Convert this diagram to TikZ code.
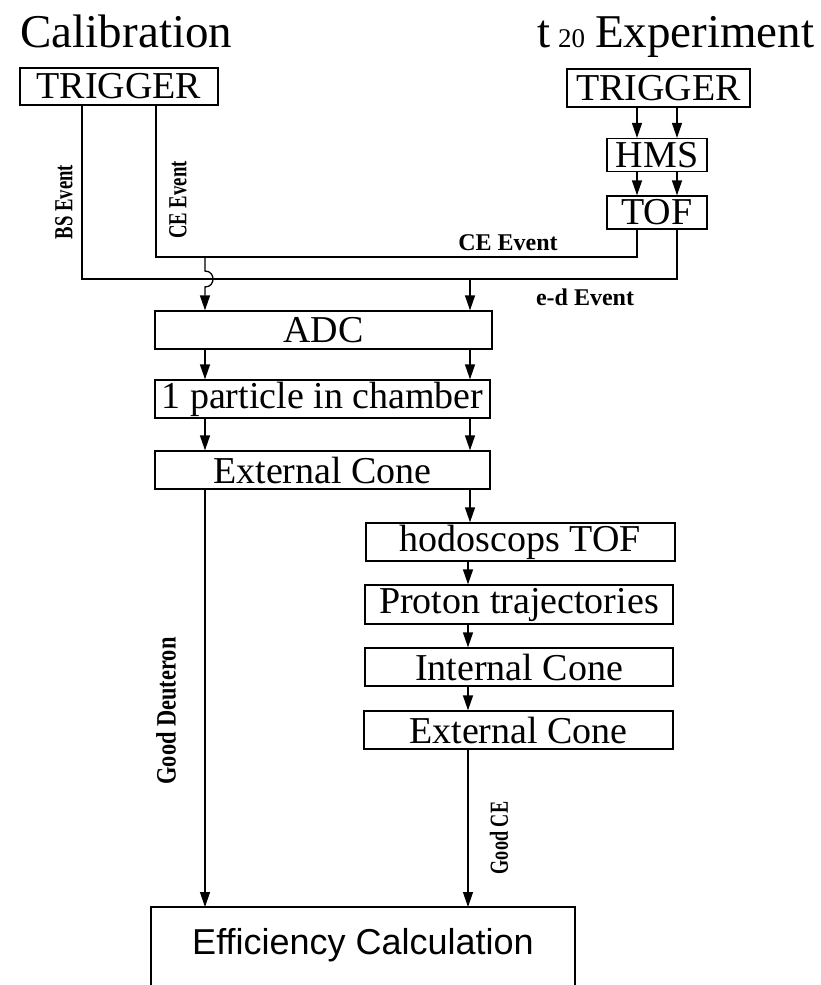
\documentclass[tikz,border=0pt]{standalone}
\usepackage{fontspec}
\usepackage{graphicx}
\setmainfont{Liberation Serif}
\newfontfamily\sansf{Liberation Sans}
\usetikzlibrary{arrows.meta}
\begin{document}
\begin{tikzpicture}[x=1pt,y=-1pt,line width=1.3pt,
  box/.style={draw,rectangle,inner sep=0pt,font=\fontsize{38}{38}\selectfont},
  arr/.style={-{Triangle[length=15pt,width=10pt]}},
  lab/.style={inner sep=0pt,font=\bfseries\fontsize{24}{24}\selectfont},
  labs/.style={inner sep=0pt,font=\bfseries\fontsize{26}{26}\selectfont},
  ttl/.style={inner sep=0pt,font=\fontsize{47}{47}\selectfont}]
\useasboundingbox (0,0) rectangle (820,985);
% titles
\node[ttl,anchor=base west] (tcal) at (20,47) {Calibration};
\node[ttl,anchor=base east] (texp) at (815,47) {t\,{\fontsize{27}{27}\selectfont 20}\hspace{10pt}Experiment};
% boxes
\node[box,minimum width=198pt,minimum height=37pt] (t1) at (119,86.5) {TRIGGER};
\node[box,minimum width=183pt,minimum height=38pt] (t2) at (658.5,88) {TRIGGER};
\node[box,minimum width=100pt,minimum height=33pt] (hms) at (657,155) {HMS};
\node[box,minimum width=100pt,minimum height=33pt] (tof) at (657,212.5) {TOF};
\node[box,minimum width=337pt,minimum height=38pt] (adc) at (323.5,330) {ADC};
\node[box,minimum width=335pt,minimum height=38pt] (onep) at (322.5,399) {1 particle in chamber};
\node[box,minimum width=335pt,minimum height=38pt] (ext1) at (322.5,470) {External Cone};
\node[box,minimum width=309pt,minimum height=38pt] (hodo) at (520.5,542) {hodoscops TOF};
\node[box,minimum width=308pt,minimum height=39pt] (prot) at (519,604.5) {Proton trajectories};
\node[box,minimum width=308pt,minimum height=38pt] (intc) at (519,667) {Internal Cone};
\node[box,minimum width=309pt,minimum height=38pt] (ext2) at (518.5,730) {External Cone};
% efficiency box (open at the bottom)
\draw (151,990) -- (151,907) -- (575,907) -- (575,990);
\node[inner sep=0pt,font=\sansf\fontsize{36}{36}\selectfont] (eff) at (363,945) {Efficiency Calculation};
% columns
\coordinate (ca) at (637,0);
\coordinate (cb) at (677,0);
\coordinate (cl) at (205,0);
\coordinate (cr) at (470,0);
\coordinate (cr2) at (468,0);
\coordinate (bs) at (82,279);
\coordinate (ce) at (156,257);
\coordinate (effL) at (205,907);
\coordinate (effR) at (468,907);
% right trigger chain
\draw[arr] (t2.south -| ca) -- (hms.north -| ca);
\draw[arr] (t2.south -| cb) -- (hms.north -| cb);
\draw[arr] (hms.south -| ca) -- (tof.north -| ca);
\draw[arr] (hms.south -| cb) -- (tof.north -| cb);
% event lines
\draw (t1.south -| ce) -- (ce) -- (ce -| ca) -- (tof.south -| ca);
\draw (t1.south -| bs) -- (bs) -- (bs -| cb) -- (tof.south -| cb);
\coordinate (hopA) at (205,271);
\coordinate (hopB) at (205,287);
\draw[arr] (ce -| cl) -- (hopA) .. controls (215.7,271) and (215.7,287) .. (hopB) -- (adc.north -| cl);
\draw[arr] (bs -| cr) -- (adc.north -| cr);
% main chain
\draw[arr] (adc.south -| cl) -- (onep.north -| cl);
\draw[arr] (adc.south -| cr) -- (onep.north -| cr);
\draw[arr] (onep.south -| cl) -- (ext1.north -| cl);
\draw[arr] (onep.south -| cr) -- (ext1.north -| cr);
\draw[arr] (ext1.south -| cr) -- (hodo.north -| cr);
\draw[arr] (ext1.south -| cl) -- (effL);
\draw[arr] (hodo.south -| cr2) -- (prot.north -| cr2);
\draw[arr] (prot.south -| cr2) -- (intc.north -| cr2);
\draw[arr] (intc.south -| cr2) -- (ext2.north -| cr2);
\draw[arr] (ext2.south -| cr2) -- (effR);
% labels
\node[labs,rotate=90] (lbs) at (64,202) {\scalebox{0.72}[1]{BS Event}};
\node[labs,rotate=90] (lce) at (178,200) {\scalebox{0.72}[1]{CE Event}};
\node[lab] (lce2) at (508,243) {CE Event};
\node[lab] (led) at (585,297) {e-d Event};
\node[labs,rotate=90,font=\bfseries\fontsize{28}{28}\selectfont] (lgd) at (166,711) {\scalebox{0.8}[1]{Good Deuteron}};
\node[labs,rotate=90] (lgc) at (499,838) {\scalebox{0.7}[1]{Good CE}};
\end{tikzpicture}
\end{document}
